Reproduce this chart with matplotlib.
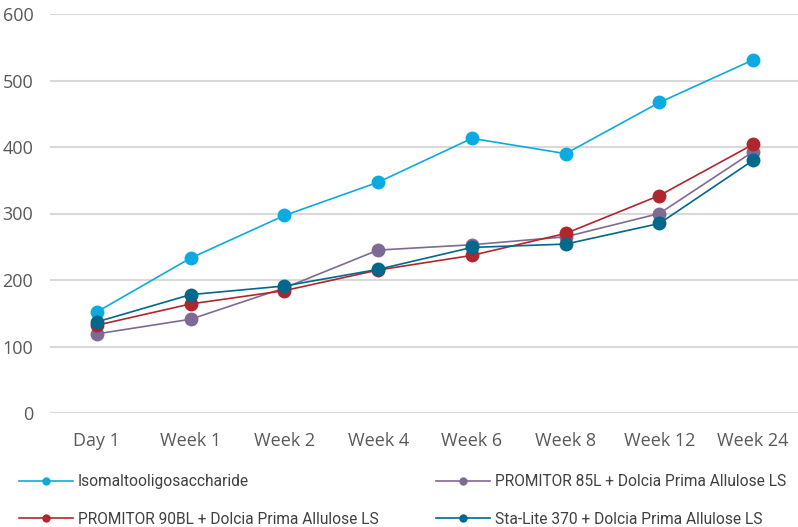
import matplotlib
matplotlib.use("Agg")
import matplotlib.pyplot as plt
from matplotlib.lines import Line2D

plt.rcParams['font.family'] = ['Roboto', 'DejaVu Sans']

categories = ["Day 1", "Week 1", "Week 2", "Week 4", "Week 6", "Week 8", "Week 12", "Week 24"]
series_names = [
    "Isomaltooligosaccharide",
    "PROMITOR 85L + Dolcia Prima Allulose LS",
    "PROMITOR 90BL + Dolcia Prima Allulose LS",
    "Sta-Lite 370 + Dolcia Prima Allulose LS",
]
iso = [152, 233, 297, 347, 413, 390, 467, 531]
p85 = [119, 141, 188, 245, 253, 265, 300, 393]
p90 = [132, 164, 184, 215, 237, 270, 327, 404]
sta = [137, 178, 191, 216, 249, 254, 285, 380]
yticks = [0, 100, 200, 300, 400, 500, 600]

colors = ["#0BABE1", "#7E6A94", "#B0262F", "#00688A"]
values = [iso, p85, p90, sta]

fig = plt.figure(figsize=(7.98, 5.27), dpi=100)
ax = fig.add_axes([50/798, 1-413/527, 750/798, 399/527])

x = list(range(len(categories)))
handles = []
for name, vals, c in zip(series_names, values, colors):
    ax.plot(x, vals, color=c, lw=1.2, marker='o', markersize=10,
            markeredgewidth=0, label=name, zorder=3)
    handles.append(Line2D([], [], color=c, lw=1.2, marker='o', markersize=6,
                          markeredgewidth=0))

tick_font = dict(family=['Open Sans', 'DejaVu Sans'], size=13, color='#595959')
ax.set_xlim(-0.5, len(categories) - 0.5)
ax.set_ylim(0, 600)
ax.set_yticks(yticks)
ax.set_yticklabels([str(v) for v in yticks], fontdict=tick_font)
ax.set_xticks(x)
ax.set_xticklabels(categories, fontdict=tick_font)
ax.grid(axis='y', color='#D9D9D9', lw=1.5, zorder=0)
ax.set_axisbelow(True)
for s in ax.spines.values():
    s.set_visible(False)
ax.tick_params(axis='both', length=0)
ax.tick_params(axis='x', pad=14)
ax.tick_params(axis='y', pad=12)

leg_kw = dict(frameon=False, fontsize=11.2, handlelength=3.5, handletextpad=0.3,
              borderaxespad=0, borderpad=0, labelspacing=1.45, labelcolor='#404040',
              loc='upper left')
fig.legend([handles[0], handles[2]], [series_names[0], series_names[2]],
           bbox_to_anchor=(19/798, 1-474/527), **leg_kw)
fig.legend([handles[1], handles[3]], [series_names[1], series_names[3]],
           bbox_to_anchor=(436/798, 1-474/527), **leg_kw)

fig.savefig("out.png", dpi=100)
